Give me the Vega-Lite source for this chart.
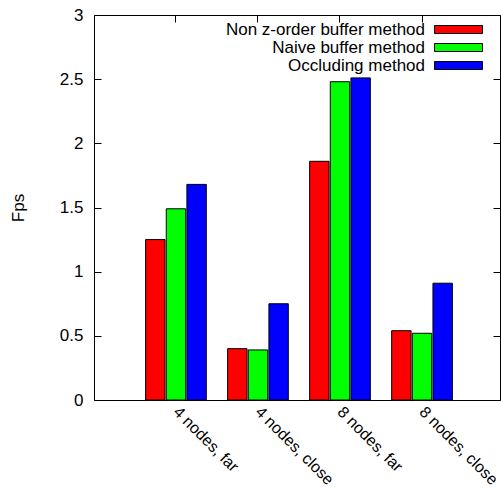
{
  "$schema": "https://vega.github.io/schema/vega-lite/v6.json",
  "width": 406,
  "height": 385,
  "autosize": "none",
  "padding": {"left": 94, "top": 15, "right": 1, "bottom": 95},
  "config": {
    "view": {"stroke": "black", "strokeWidth": 1},
    "font": "Liberation Sans",
    "axis": {"domain": false, "grid": false, "labelFont": "Liberation Sans", "labelFontSize": 17, "labelColor": "black", "tickColor": "black", "tickWidth": 1, "titleFont": "Liberation Sans", "titleFontSize": 17, "titleFontWeight": "normal", "titleColor": "black"},
    "legend": {"labelFont": "Liberation Sans", "labelFontSize": 17, "labelColor": "black"}
  },
  "data": {
    "values": [
      {"group": "4 nodes, far", "method": "Non z-order buffer method", "fps": 1.25},
      {"group": "4 nodes, far", "method": "Naive buffer method", "fps": 1.49},
      {"group": "4 nodes, far", "method": "Occluding method", "fps": 1.68},
      {"group": "4 nodes, close", "method": "Non z-order buffer method", "fps": 0.40},
      {"group": "4 nodes, close", "method": "Naive buffer method", "fps": 0.39},
      {"group": "4 nodes, close", "method": "Occluding method", "fps": 0.75},
      {"group": "8 nodes, far", "method": "Non z-order buffer method", "fps": 1.86},
      {"group": "8 nodes, far", "method": "Naive buffer method", "fps": 2.48},
      {"group": "8 nodes, far", "method": "Occluding method", "fps": 2.51},
      {"group": "8 nodes, close", "method": "Non z-order buffer method", "fps": 0.54},
      {"group": "8 nodes, close", "method": "Naive buffer method", "fps": 0.52},
      {"group": "8 nodes, close", "method": "Occluding method", "fps": 0.91}
    ]
  },
  "layer": [
    {
      "mark": {"type": "bar", "stroke": "black", "strokeWidth": 1},
      "encoding": {
        "x": {"field": "group", "type": "nominal", "sort": ["4 nodes, far", "4 nodes, close", "8 nodes, far", "8 nodes, close"],
          "scale": {"paddingInner": 0.26, "paddingOuter": 0.605, "align": 0.52},
          "axis": {"orient": "bottom", "title": null, "labelAngle": 45, "labelAlign": "left", "labelBaseline": "middle", "ticks": false, "labelPadding": 9, "labelFontSize": 16}},
        "xOffset": {"field": "method", "sort": ["Non z-order buffer method", "Naive buffer method", "Occluding method"], "scale": {"paddingInner": 0.06}},
        "y": {"field": "fps", "type": "quantitative", "scale": {"domain": [0, 3]},
          "axis": {"orient": "left", "title": "Fps", "values": [0, 0.5, 1, 1.5, 2, 2.5, 3], "format": "~g", "tickSize": -7, "labelPadding": 18, "titlePadding": 32}},
        "color": {"field": "method", "type": "nominal", "sort": ["Non z-order buffer method", "Naive buffer method", "Occluding method"],
          "scale": {"domain": ["Non z-order buffer method", "Naive buffer method", "Occluding method"], "range": ["#ff0000", "#00ff00", "#0000ff"]},
          "legend": {"orient": "none", "legendX": 356, "legendY": 6, "title": null, "direction": "vertical", "padding": 0,
            "symbolType": "M-3,-0.5H3V0.5H-3Z", "symbolSize": 256, "symbolStrokeColor": "black", "symbolStrokeWidth": 1, "symbolOpacity": 1,
            "labelAlign": "right", "labelOffset": -42, "labelLimit": 400, "rowPadding": 0}}
      }
    },
    {
      "mark": {"type": "bar", "opacity": 0},
      "encoding": {
        "x": {"field": "group", "type": "nominal", "sort": ["4 nodes, far", "4 nodes, close", "8 nodes, far", "8 nodes, close"],
          "axis": {"orient": "top", "title": null, "labels": false, "tickSize": -7}},
        "xOffset": {"field": "method", "sort": ["Non z-order buffer method", "Naive buffer method", "Occluding method"]},
        "y": {"field": "fps", "type": "quantitative",
          "axis": {"orient": "right", "title": null, "labels": false, "values": [0, 0.5, 1, 1.5, 2, 2.5, 3], "tickSize": -7}}
      }
    }
  ],
  "resolve": {"axis": {"x": "independent", "y": "independent"}}
}
